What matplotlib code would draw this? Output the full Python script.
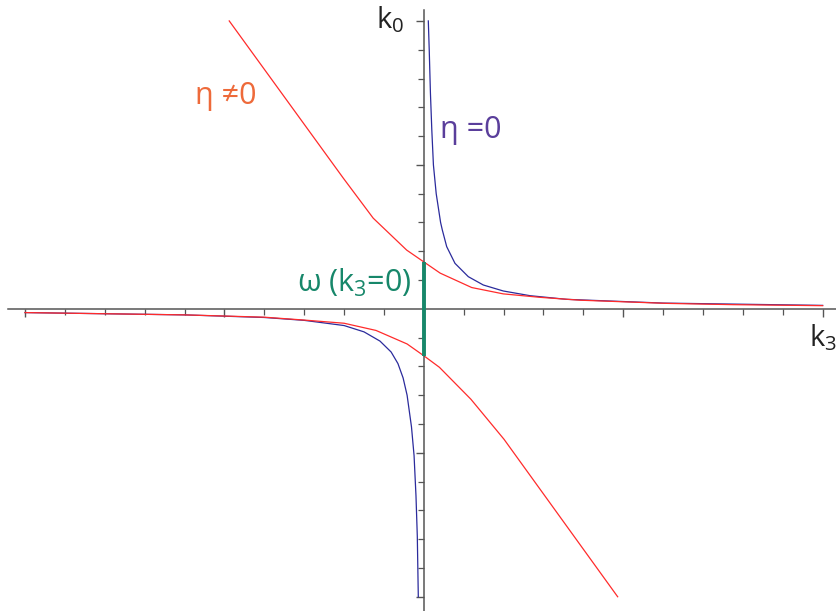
import matplotlib
matplotlib.use("Agg")
import matplotlib.pyplot as plt
from matplotlib.ticker import FixedLocator, NullFormatter

plt.rcParams['font.family'] = ['Open Sans', 'DejaVu Sans']
plt.rcParams['mathtext.fontset'] = 'custom'
plt.rcParams['mathtext.rm'] = 'Open Sans'
plt.rcParams['mathtext.it'] = 'Open Sans'

# eta = 0 branches
blue_up_k3 = [0.112, 0.135, 0.165, 0.2, 0.24, 0.31, 0.42, 0.463, 0.573, 0.781, 1.115, 1.491, 1.992, 2.662, 3.58, 6.0, 10.0]
blue_up_k0 = [10.0, 9.0, 7.5, 6.2, 5.0, 4.0, 3.0, 2.74, 2.16, 1.58, 1.117, 0.828, 0.62, 0.457, 0.33, 0.2, 0.12]
blue_lo_k3 = [-10.0, -6.0, -4.0, -3.0, -2.0, -1.5, -1.1, -0.82, -0.65, -0.52, -0.42, -0.31, -0.245, -0.197, -0.164, -0.139]
blue_lo_k0 = [-0.13, -0.21, -0.30, -0.40, -0.58, -0.8, -1.12, -1.5, -1.9, -2.4, -3.0, -4.1, -5.1, -6.5, -7.9, -10.0]

# eta != 0 branches
red_up_k3 = [-4.88, -2.02, -1.27, -0.43, 0.01, 0.41, 1.20, 1.99, 2.91, 3.92, 6.09, 7.76, 10.0]
red_up_k0 = [10.0, 4.54, 3.15, 2.04, 1.62, 1.24, 0.74, 0.52, 0.40, 0.30, 0.19, 0.145, 0.11]
red_lo_k3 = [-10.0, -6.0, -4.0, -3.0, -2.0, -1.2, -0.42, 0.0, 0.39, 1.18, 2.01, 4.86]
red_lo_k0 = [-0.13, -0.21, -0.29, -0.39, -0.50, -0.75, -1.22, -1.63, -2.03, -3.14, -4.53, -10.0]

# omega(k3=0) gap
gap_k0 = [-1.63, 1.62]

fig = plt.figure(figsize=(8.37, 6.11), dpi=100)
ax = fig.add_axes([0, 0, 1, 1])
ax.set_xlim(-10.628, 10.36)
ax.set_ylim(-10.495, 10.727)

axis_col = '#555555'
for s in ['top', 'right']:
    ax.spines[s].set_visible(False)
ax.spines['left'].set_position(('data', 0))
ax.spines['bottom'].set_position(('data', 0))
ax.spines['bottom'].set_bounds(-10.43, 10.36)
ax.spines['left'].set_bounds(-10.5, 10.38)
for s in ['left', 'bottom']:
    ax.spines[s].set_color(axis_col)
    ax.spines[s].set_linewidth(1.1)

minor = [i for i in range(-10, 11) if i not in (0, -5, 5, -10, 10)]
ax.xaxis.set_major_locator(FixedLocator([-10, -5, 5, 10]))
ax.xaxis.set_minor_locator(FixedLocator(minor))
ax.yaxis.set_major_locator(FixedLocator([-10, -5, 5, 10]))
ax.yaxis.set_minor_locator(FixedLocator(minor))
for a in (ax.xaxis, ax.yaxis):
    a.set_major_formatter(NullFormatter())
    a.set_minor_formatter(NullFormatter())
ax.tick_params(which='major', direction='out', length=6, width=1, color=axis_col)
ax.tick_params(which='minor', direction='out', length=4.5, width=0.9, color=axis_col)

ax.plot(blue_up_k3, blue_up_k0, color='#2B2B9C', lw=0.9)
ax.plot(blue_lo_k3, blue_lo_k0, color='#2B2B9C', lw=0.9)
ax.plot(red_up_k3, red_up_k0, color='#FF2B2B', lw=0.9)
ax.plot(red_lo_k3, red_lo_k0, color='#FF2B2B', lw=0.9)
ax.plot([0, 0], gap_k0, color='#17876A', lw=2.8, solid_capstyle='butt', zorder=5)

ax.text(-0.85, 10.03, r'k$_0$', fontsize=21, color='#222222', ha='center', va='center')
ax.text(10.35, -1.01, r'k$_3$', fontsize=21, color='#222222', ha='right', va='center')
ax.text(-4.96, 7.39, 'η ≠0', fontsize=22, color='#EE6A3A', ha='center', va='center')
ax.text(1.18, 6.21, 'η =0', fontsize=22, color='#5A3E9B', ha='center', va='center')
ax.text(-1.75, 0.90, r'ω (k$_3$=0)', fontsize=22, color='#17876A', ha='center', va='center')

fig.savefig('out.png', dpi=100)
